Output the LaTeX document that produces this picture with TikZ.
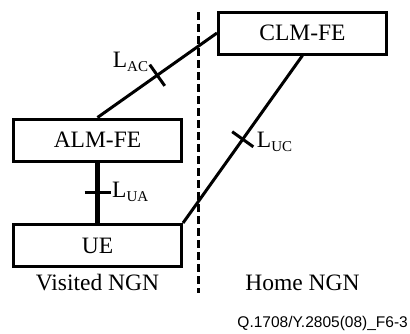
\documentclass[tikz,border=0pt]{standalone}
\usepackage{fontspec}
\setmainfont{Liberation Serif}
\newfontfamily\figsans{Liberation Sans}
\usetikzlibrary{positioning,calc}

\tikzset{
  fe/.style={draw, line width=3pt, minimum width=168pt, minimum height=42pt,
    inner sep=0pt, font=\fontsize{23.5}{28}\selectfont},
  link/.style={line width=3pt},
  refpoint/.style={line width=3pt},
  netborder/.style={line width=3pt, dash pattern=on 8pt off 4pt},
  lbl/.style={inner sep=0pt, font=\fontsize{23.5}{28}\selectfont},
}
% reference point name with its subscript
\newcommand{\rp}[1]{L\raisebox{-4pt}{\fontsize{15}{15}\selectfont #1}}

\begin{document}
\begin{tikzpicture}[x=1pt,y=-1pt]
    \useasboundingbox (0,0) rectangle (410,333);
    \node[fe] (clm) at (302.5,33) {CLM-FE};
    \node[fe] (alm) at (97.5,140) {ALM-FE};
    \node[fe] (ue) at (97.5,245.5) {UE};
    % border between the two networks
    \coordinate (bordertop) at (198,12);
    \coordinate (borderbot) at (198,293);
    \draw[netborder] (bordertop) -- (borderbot);
    % links with their reference points
    \draw[link] (alm.north) -- (clm.west) coordinate[pos=0.5] (tac);
    \draw[refpoint] ($(tac)!13pt!90:(clm.west)$) -- ($(tac)!13pt!-90:(clm.west)$);
    \draw[link] (clm.south) -- (ue.north east) coordinate[pos=0.5] (tuc);
    \draw[refpoint] ($(tuc)!13pt!90:(ue.north east)$) -- ($(tuc)!13pt!-90:(ue.north east)$);
    \draw[link, line width=4.5pt] (alm.south) -- (ue.north) coordinate[pos=0.5] (tua);
    \draw[refpoint] ($(tua)+(-13,0)$) -- ($(tua)+(13,0)$);
    \node[lbl, anchor=south east] (lac) at ($(tac)+(-9,-3)$) {\rp{AC}};
    \node[lbl, anchor=base west] (luc) at ($(tuc)+(14,8)$) {\rp{UC}};
    \node[lbl, anchor=base west] (lua) at ($(tua)+(14.5,5)$) {\rp{UA}};
    % network names
    \node[lbl] (visited) at (97.5,283) {Visited NGN};
    \node[lbl] (home) at (clm |- visited) {Home NGN};
    \node[anchor=east, inner sep=0pt, font=\figsans\fontsize{15.5}{18}\selectfont] (fig) at (408,323) {Q.1708/Y.2805(08)\_F6-3};
\end{tikzpicture}
\end{document}
